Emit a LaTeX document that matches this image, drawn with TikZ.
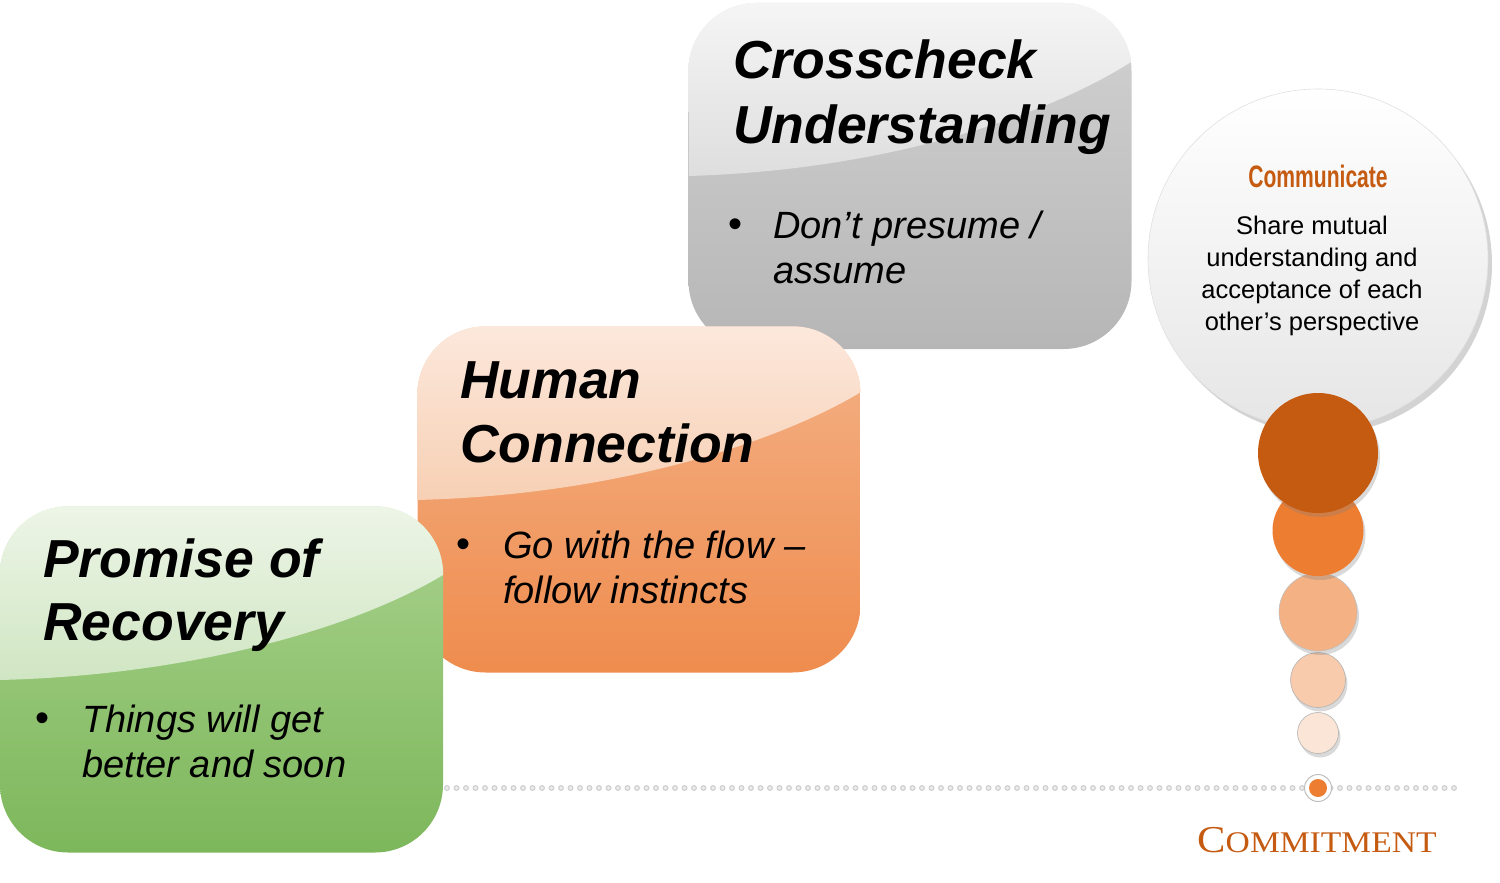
\documentclass[tikz,border=0pt]{standalone}
\usepackage{fontspec}
\usepackage{graphicx}
\setmainfont{Liberation Sans}
\newfontfamily\capsfont{Liberation Serif}
\usetikzlibrary{shadows,calc}
\definecolor{gTop}{HTML}{EDF5E7}
\definecolor{gGl}{HTML}{D0E6C3}
\definecolor{gMid}{HTML}{A9D28E}
\definecolor{gBot}{HTML}{7DB75B}
\definecolor{oTop}{HTML}{FCE8DC}
\definecolor{oGl}{HTML}{F7D0B4}
\definecolor{oMid}{HTML}{F4B287}
\definecolor{oBot}{HTML}{EF8C4E}
\definecolor{sTop}{HTML}{F5F5F5}
\definecolor{sGl}{HTML}{DEDEDE}
\definecolor{sMid}{HTML}{D2D2D2}
\definecolor{sBot}{HTML}{B6B6B6}
\definecolor{cDark}{HTML}{C55A11}
\definecolor{cMed}{HTML}{ED7D31}
\definecolor{cLight}{HTML}{F4B183}
\definecolor{cPale}{HTML}{F8CBAD}
\definecolor{cPaler}{HTML}{FBE5D6}
\definecolor{dotRing}{HTML}{CFCFCF}
\definecolor{dotFill}{HTML}{EDEDED}
\tikzset{
  card/.style={rectangle, rounded corners=68pt, minimum width=443pt, minimum height=346pt,
    inner sep=0pt},
  ttl/.style={anchor=base west, inner sep=0pt, font=\fontsize{53.5}{60}\selectfont\bfseries\itshape},
  bul/.style={anchor=base west, inner sep=0pt, font=\fontsize{38}{45}\selectfont\itshape},
  dot/.style={anchor=base west, inner sep=0pt, font=\fontsize{40}{45}\selectfont},
  body/.style={anchor=base, inner sep=0pt, font=\fontsize{25.5}{32}\selectfont},
  ball/.style={circle, inner sep=0pt, drop shadow={opacity=0.3, shadow xshift=2pt, shadow yshift=-4pt}},
}
\begin{document}
\begin{tikzpicture}[x=1pt,y=-1pt]
\useasboundingbox (0,0) rectangle (1500,883);

% gray card
\node[card, top color=sMid, bottom color=sBot] (scard) at (910,176) {};
\begin{scope}
  \clip[rounded corners=68pt] (scard.north west) rectangle (scard.south east);
  \shade[top color=sTop, bottom color=sGl] (scard.north west) -- (scard.north east) -- (1131,62)
    .. controls (1048,115) and (889,170) .. (689,176) -- cycle;
\end{scope}

% orange card
\node[card, top color=oMid, bottom color=oBot] (ocard) at (639,499.5) {};
\begin{scope}
  \clip[rounded corners=68pt] (ocard.north west) rectangle (ocard.south east);
  \shade[top color=oTop, bottom color=oGl] (ocard.north west) -- (ocard.north east) -- (861,392)
    .. controls (778,442) and (617,495) .. (417,500) -- cycle;
\end{scope}

% green card
\node[card, top color=gMid, bottom color=gBot] (gcard) at (221.5,679.5) {};
\begin{scope}
  \clip[rounded corners=68pt] (gcard.north west) rectangle (gcard.south east);
  \shade[top color=gTop, bottom color=gGl] (gcard.north west) -- (gcard.north east) -- (443,575)
    .. controls (360,625) and (200,675) .. (0,680) -- cycle;
\end{scope}

% texts gray
\node[ttl] (s1) at (733,78) {Crosscheck};
\node[ttl] (s2) at (733,143) {Understanding};
\node[dot] (sb) at (728,237) {•};
\node[bul] (s3) at (773,238) {Don’t presume /};
\node[bul] (s4) at (773,283) {assume};

% texts orange
\node[ttl] (o1) at (460,398) {Human};
\node[ttl] (o2) at (460,462) {Connection};
\node[dot] (ob) at (456,557) {•};
\node[bul] (o3) at (503,558) {Go with the flow –};
\node[bul] (o4) at (503,603) {follow instincts};

% texts green
\node[ttl] (g1) at (43,577) {Promise of};
\node[ttl] (g2) at (43,640) {Recovery};
\node[dot] (gb) at (35,731) {•};
\node[bul] (g3) at (82,732) {Things will get};
\node[bul] (g4) at (82,777) {better and soon};

% dotted base line
\coordinate (dl) at (447,788);
\coordinate (dr) at (1458,788);
\draw[line width=6pt, dotRing, dash pattern=on 0pt off 9.5pt, line cap=round] (dl) -- (dr);
\draw[line width=3.6pt, dotFill, dash pattern=on 0pt off 9.5pt, line cap=round] (dl) -- (dr);

% big circle
\node[circle, minimum size=340pt, inner sep=0pt, top color=white, bottom color=black!10,
  draw=black!12, line width=0.6pt,
  drop shadow={opacity=0.35, shadow xshift=4pt, shadow yshift=-5pt}] (cc) at (1318,259) {};
\node[anchor=base, inner sep=0pt, text=cDark] (ct) at (1318,187)
  {\scalebox{0.68}[1]{\fontsize{31}{31}\selectfont\bfseries Communicate}};
\node[body] (cb1) at (1312,234) {Share mutual};
\node[body] (cb2) at (1312,266) {understanding and};
\node[body] (cb3) at (1312,298) {acceptance of each};
\node[body] (cb4) at (1312,330) {other’s perspective};

% stacked circles
\node[ball, minimum size=41pt, fill=cPaler, draw=black!30, line width=0.6pt] (b5) at (1318,733) {};
\node[ball, minimum size=55pt, fill=cPale, draw=black!30, line width=0.6pt] (b4) at (1318,680) {};
\node[ball, minimum size=78pt, fill=cLight, draw=black!25, line width=0.6pt] (b3) at (1318,612) {};
\node[ball, minimum size=91pt, fill=cMed] (b2) at (1318,530.5) {};
\node[ball, minimum size=120pt, fill=cDark] (b1) at (1318,453) {};

% marker
\node[circle, minimum size=27pt, inner sep=0pt, fill=white, draw=black!25, line width=1pt] (mk) at (1318,788) {};
\node[circle, minimum size=18pt, inner sep=0pt, fill=cMed] (mki) at (mk) {};

% label
\node[anchor=base, inner sep=0pt, text=cDark] (cm) at (1317,852)
  {\capsfont\scalebox{1.12}[1]{\fontsize{38}{38}\selectfont C\fontsize{30}{30}\selectfont OMMITMENT}};
\end{tikzpicture}
\end{document}
